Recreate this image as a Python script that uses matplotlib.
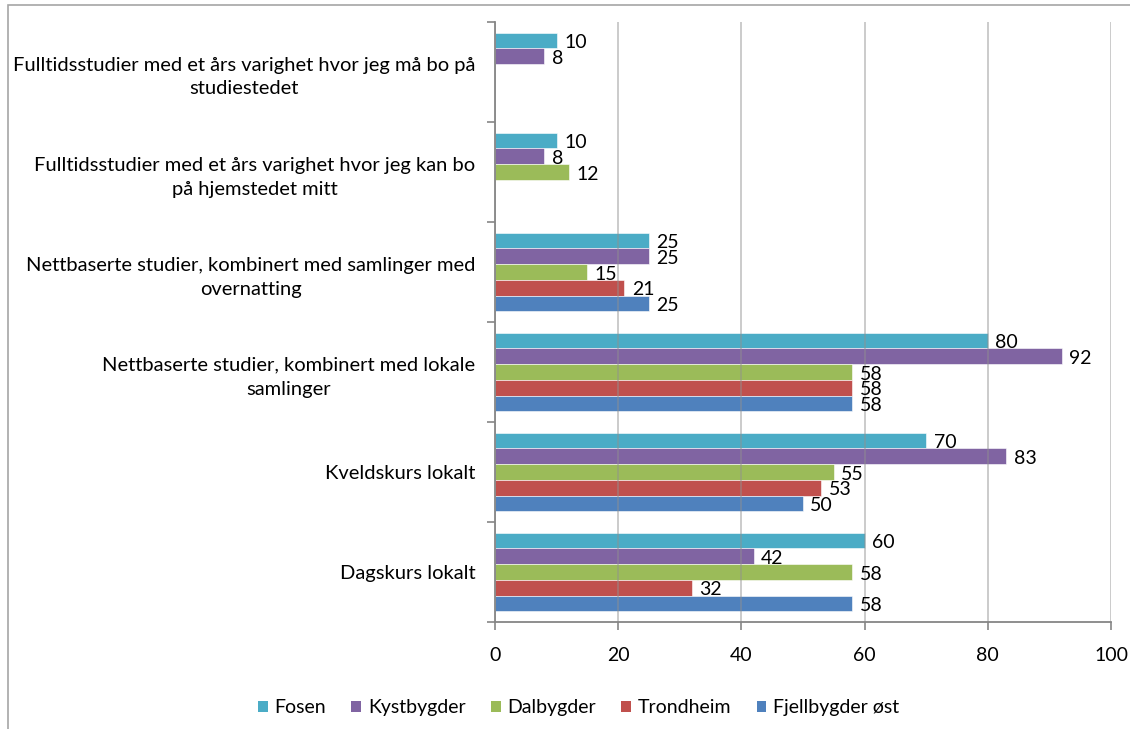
import numpy as np
import matplotlib
matplotlib.use('Agg')
import matplotlib.pyplot as plt
from matplotlib.patches import Rectangle, Patch

plt.rcParams['font.family'] = ['Lato', 'DejaVu Sans']

categories = [
    'Fulltidsstudier med et års varighet hvor jeg må bo på\nstudiestedet',
    'Fulltidsstudier med et års varighet hvor jeg kan bo\npå hjemstedet mitt',
    'Nettbaserte studier, kombinert med samlinger med\novernatting',
    'Nettbaserte studier, kombinert med lokale\nsamlinger',
    'Kveldskurs lokalt',
    'Dagskurs lokalt',
]
series = ['Fosen', 'Kystbygder', 'Dalbygder', 'Trondheim', 'Fjellbygder øst']
fosen = [10, 10, 25, 80, 70, 60]
kystbygder = [8, 8, 25, 92, 83, 42]
dalbygder = [np.nan, 12, 15, 58, 55, 58]
trondheim = [np.nan, np.nan, 21, 58, 53, 32]
fjellbygder = [np.nan, np.nan, 25, 58, 50, 58]
values = [fosen, kystbygder, dalbygder, trondheim, fjellbygder]
colors = ['#4BACC6', '#8064A2', '#9BBB59', '#C0504D', '#4F81BD']

fs = 14

fig = plt.figure(figsize=(11.3, 7.29), dpi=100)
ax = fig.add_axes([495 / 1130, 1 - 622 / 729, (1111 - 495) / 1130, (622 - 22) / 729])

n = len(categories)
ypos = np.arange(n)[::-1]
h = 0.157
for k, (name, vals, col) in enumerate(zip(series, values, colors)):
    off = (2 - k) * h
    v = np.array(vals, dtype=float)
    ax.barh(ypos + off, np.nan_to_num(v), height=h, color=col,
            edgecolor='white', linewidth=0.4, zorder=2)
    for y, val in zip(ypos + off, v):
        if not np.isnan(val):
            ax.text(val + 1.2, y - 0.02, f'{int(val)}', va='center', ha='left',
                    fontsize=fs, color='black', zorder=4)

ax.set_xlim(0, 100)
ax.set_ylim(-0.5, n - 0.5)
ax.set_xticks(np.arange(0, 101, 20))
ax.set_yticks(ypos)
ax.set_yticklabels(categories, ha='right', multialignment='center',
                   linespacing=1.5)
ax.set_yticks(np.arange(-0.5, n, 1), minor=True)
ax.tick_params(axis='y', which='major', length=0, pad=14, labelsize=14.5)
ax.tick_params(axis='y', which='minor', length=6, color='#868686', width=1.2)
ax.tick_params(axis='x', length=6, color='#868686', width=1.2, pad=12,
               labelsize=fs)

ax.grid(axis='x', color='#909090', linewidth=1.3, alpha=0.5, zorder=3)
ax.set_axisbelow(False)
for s in ['top', 'right']:
    ax.spines[s].set_visible(False)
for s in ['left', 'bottom']:
    ax.spines[s].set_color('#868686')
    ax.spines[s].set_linewidth(1.3)
    ax.spines[s].set_zorder(5)

handles = [Patch(facecolor=c, edgecolor='none') for c in colors]
fig.legend(handles, series, loc='center', bbox_to_anchor=(0.512, 0.029),
           ncol=5, frameon=False, fontsize=fs, handlelength=0.5,
           handleheight=0.5, handletextpad=0.35, columnspacing=1.3)

fig.add_artist(Rectangle((8 / 1130, -0.1), 1.2, 1.1 - 5 / 729,
                         transform=fig.transFigure, fill=False,
                         edgecolor='#a6a6a6', linewidth=1.2))

fig.savefig('out.png', dpi=100)
